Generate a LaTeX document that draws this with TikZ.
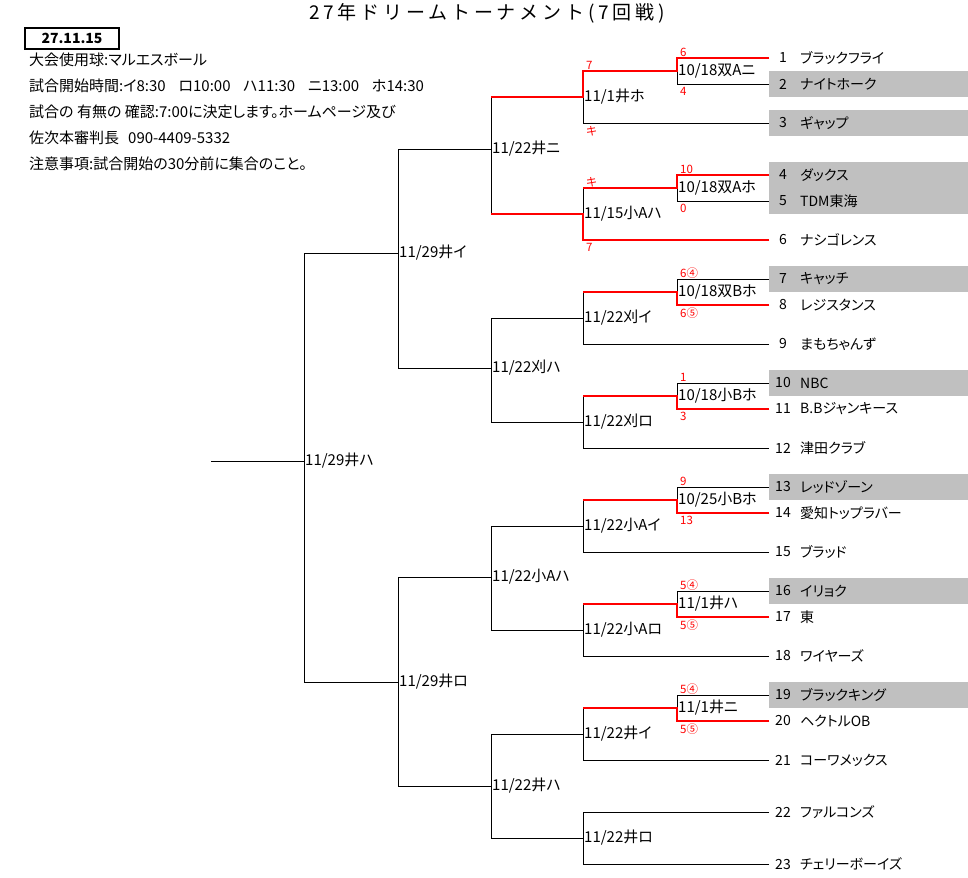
\documentclass[tikz,border=0pt]{standalone}
\usepackage{fontspec}
\setmainfont{Noto Sans CJK JP}[RawFeature={+palt}]
\newfontfamily\titlefont{Noto Sans CJK JP}[LetterSpace=20]
\definecolor{boxgrey}{RGB}{192,192,192}
\definecolor{winred}{RGB}{255,0,0}
\newcommand{\bodyf}{\fontsize{14bp}{16bp}\selectfont}
\newcommand{\infof}{\fontsize{15bp}{17bp}\selectfont}
\newcommand{\scoref}{\fontsize{11.5bp}{13bp}\selectfont}
\tikzset{
  wire/.style={black, line width=1bp},
  win/.style={winred, line width=2bp},
  team/.style={anchor=west, minimum width=199bp, minimum height=26bp, inner sep=0pt, outer sep=0pt},
  tnum/.style={font=\bodyf, inner sep=0pt},
  tname/.style={anchor=west, font=\bodyf, inner sep=0pt},
  game/.style={anchor=west, font=\infof, inner sep=1bp},
  score/.style={text=winred, font=\scoref, inner sep=0pt},
  info/.style={anchor=west, font=\infof, inner sep=0pt},
  datebox/.style={draw, line width=2bp, minimum width=94bp, minimum height=21bp, inner sep=0pt, font=\bodyf\bfseries}
}
\begin{document}
\begin{tikzpicture}[x=1bp, y=-1bp]
\useasboundingbox (0,0) rectangle (968,878);
% header
\node[font=\titlefont\fontsize{19bp}{21bp}\selectfont, inner sep=0pt] (title) at (487,13) {27年ドリームトーナメント(7回戦)};
\node[datebox] (date) at (72,38) {27.11.15};
\node[info] (i1) at (29,60) {大会使用球:マルエスボール};
\node[info] (i2) at (29,86) {試合開始時間:イ8:30\hspace{0.85em}ロ10:00\hspace{0.85em}ハ11:30\hspace{0.85em}ニ13:00\hspace{0.85em}ホ14:30};
\node[info] (i3) at (29,112) {試合の 有無の 確認:7:00に決定します。ホームページ及び};
\node[info] (i4) at (29,138) {佐次本審判長\hspace{0.6em}090-4409-5332};
\node[info] (i5) at (29,164) {注意事項:試合開始の30分前に集合のこと。};

% teams
\foreach \i/\y/\c/\name in {1/58/none/ブラックフライ, 2/84/boxgrey/ナイトホーク,
  3/123/boxgrey/ギャップ, 4/175/boxgrey/ダックス, 5/201/boxgrey/TDM東海,
  6/240/none/ナシゴレンス, 7/279/boxgrey/キャッチ, 8/305/none/レジスタンス,
  9/344/none/まもちゃんず, 10/383/boxgrey/NBC, 11/409/none/B.Bジャンキース,
  12/448/none/津田クラブ, 13/487/boxgrey/レッドゾーン, 14/513/none/愛知トップラバー,
  15/552/none/ブラッド, 16/591/boxgrey/イリョク, 17/617/none/東,
  18/656/none/ワイヤーズ, 19/695/boxgrey/ブラックキング, 20/721/none/ヘクトルOB,
  21/760/none/コーワメックス, 22/812/none/ファルコンズ, 23/864/none/チェリーボーイズ}
{
  \node[team, fill=\c] (t\i) at (769,\y) {};
  \node[tnum] (n\i) at ([xshift=14bp]t\i.west) {\i};
  \node[tname] (m\i) at ([xshift=31bp]t\i.west) {\name};
}

% junctions
\coordinate (a1) at (677,71);
\coordinate (a2) at (677,188);
\coordinate (a3) at (677,292);
\coordinate (a4) at (677,396);
\coordinate (a5) at (677,500);
\coordinate (a6) at (677,604);
\coordinate (a7) at (677,708);
\coordinate (b1) at (583,97);
\coordinate (b2) at (583,214);
\coordinate (b3) at (583,318);
\coordinate (b4) at (583,422);
\coordinate (b5) at (583,526);
\coordinate (b6) at (583,630);
\coordinate (b7) at (583,734);
\coordinate (b8) at (583,838);
\coordinate (c1) at (491,149);
\coordinate (c2) at (491,368);
\coordinate (c3) at (491,577);
\coordinate (c4) at (491,786);
\coordinate (d1) at (398,253);
\coordinate (d2) at (398,682);
\coordinate (f) at (304,461);
\coordinate (s) at (211,461);

% bracket
\foreach \t/\j in {1/a1,2/a1,3/b1,4/a2,5/a2,6/b2,7/a3,8/a3,9/b3,10/a4,11/a4,12/b4,
  13/a5,14/a5,15/b5,16/a6,17/a6,18/b6,19/a7,20/a7,21/b7,22/b8,23/b8}
  \draw[wire] (t\t.west) -| (\j);
\foreach \p/\q in {a1/b1,a2/b2,a3/b3,a4/b4,a5/b5,a6/b6,a7/b7,b1/c1,b2/c1,b3/c2,b4/c2,
  b5/c3,b6/c3,b7/c4,b8/c4,c1/d1,c2/d1,c3/d2,c4/d2,d1/f,d2/f}
  \draw[wire] (\p) -| (\q);
\draw[wire] (f) -- (s);

% winners
\draw[win] (t1.west) -| (a1) -| (b1) -- (b1 -| c1);
\draw[win] (t6.west) -| (b2) -- (b2 -| c1);
\foreach \t/\j/\k in {4/a2/b2,8/a3/b3,11/a4/b4,14/a5/b5,17/a6/b6,20/a7/b7}
  \draw[win] (t\t.west) -| (\j) -- (\j -| \k);

% scores
\foreach \j/\u/\l/\p/\q in {a1/t1.west/t2.west/6/4, b1/a1/t3.west/7/キ,
  a2/t4.west/t5.west/10/0, b2/a2/t6.west/キ/7, a3/t7.west/t8.west/6④/6⑤,
  a4/t10.west/t11.west/1/3, a5/t13.west/t14.west/9/13,
  a6/t16.west/t17.west/5④/5⑤, a7/t19.west/t20.west/5④/5⑤}
{
  \node[score, anchor=base west] (hi-\j) at ([xshift=3bp,yshift=2bp]\j |- \u) {\p};
  \node[score, anchor=north west] (lo-\j) at ([xshift=3bp,yshift=-3bp]\j |- \l) {\q};
}

% match labels
\foreach \j/\txt in {a1/{10/18双Aニ}, a2/{10/18双Aホ}, a3/{10/18双Bホ}, a4/{10/18小Bホ},
  a5/{10/25小Bホ}, a6/{11/1井ハ}, a7/{11/1井ニ},
  b1/{11/1井ホ}, b2/{11/15小Aハ}, b3/{11/22刈イ}, b4/{11/22刈ロ},
  b5/{11/22小Aイ}, b6/{11/22小Aロ}, b7/{11/22井イ}, b8/{11/22井ロ},
  c1/{11/22井ニ}, c2/{11/22刈ハ}, c3/{11/22小Aハ}, c4/{11/22井ハ},
  d1/{11/29井イ}, d2/{11/29井ロ}, f/{11/29井ハ}}
  \node[game] (g-\j) at (\j) {\txt};
\end{tikzpicture}
\end{document}
